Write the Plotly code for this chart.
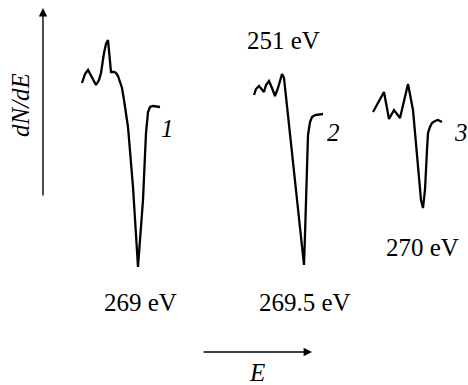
import plotly.graph_objects as go

# Spectrum 1 (arbitrary units: E position, dN/dE signal)
e1 = [82, 85, 88, 91, 96, 99, 101, 104, 106, 108, 110, 111, 114, 116, 118, 120, 122, 124,
      128, 133, 136, 138, 140, 143, 146, 148, 150, 153, 160]
s1 = [83, 74, 70, 76, 85, 80, 73, 53, 44, 40, 62, 72, 72, 73, 76, 81, 88, 100,
      127, 187, 240, 267, 240, 200, 133, 112, 107, 106, 107]
# Spectrum 2
e2 = [254, 256, 259, 261, 264, 266, 269, 272, 275, 278, 282, 284, 304, 305, 306, 307,
      308, 310, 312, 315, 323]
s2 = [95, 89, 86, 88, 92, 85, 81, 88, 96, 88, 74, 78, 265, 235, 200, 160,
      135, 122, 117, 115, 114]
# Spectrum 3
e3 = [373, 384, 389, 394, 400, 408, 413, 418, 421, 423, 425, 427, 428, 430, 432, 435, 438, 442]
s3 = [112, 92, 119, 110, 118, 84, 110, 170, 200, 208, 190, 150, 133, 127, 123, 121, 120, 122]

curve_labels = ["1", "2", "3"]
label_pos = [(167, 128), (333, 132), (461, 132)]
energy_labels = ["269 eV", "269.5 eV", "251 eV", "270 eV"]
energy_pos = [(140, 302), (305, 302), (283, 40), (422, 247)]

fig = go.Figure()
for ex, sy in [(e1, s1), (e2, s2), (e3, s3)]:
    fig.add_trace(go.Scatter(x=ex, y=sy, mode="lines",
                             line=dict(color="black", width=2.3),
                             showlegend=False, hoverinfo="skip"))

font = dict(family="Liberation Serif, Times New Roman, serif", size=25, color="black")
ann = []
for t, (x, y) in zip(curve_labels, label_pos):
    ann.append(dict(x=x, y=y, text="<i>%s</i>" % t, showarrow=False, font=font,
                    xref="x", yref="y"))
for t, (x, y) in zip(energy_labels, energy_pos):
    ann.append(dict(x=x, y=y, text=t, showarrow=False, font=font, xref="x", yref="y"))
# axis arrows
ann.append(dict(x=43, y=8, ax=43, ay=197, xref="x", yref="y", axref="x", ayref="y",
                text="", showarrow=True, arrowhead=2, arrowsize=1.2, arrowwidth=1.4,
                arrowcolor="black"))
ann.append(dict(x=312, y=352, ax=202, ay=352, xref="x", yref="y", axref="x", ayref="y",
                text="", showarrow=True, arrowhead=2, arrowsize=1.2, arrowwidth=1.4,
                arrowcolor="black"))
ann.append(dict(x=20, y=105, text="<i>dN/dE</i>", textangle=-90, showarrow=False,
                font=font, xref="x", yref="y"))
ann.append(dict(x=257, y=372, text="<i>E</i>", showarrow=False, font=font,
                xref="x", yref="y"))

fig.update_layout(
    width=468, height=385, margin=dict(l=0, r=0, t=0, b=0),
    paper_bgcolor="white", plot_bgcolor="white",
    xaxis=dict(range=[0, 468], visible=False, fixedrange=True),
    yaxis=dict(range=[385, 0], visible=False, fixedrange=True),
    annotations=ann,
)
fig.write_html("out.html", config=dict(displayModeBar=False),
               post_script="document.body.style.margin='0px';document.body.style.overflow='hidden';")
